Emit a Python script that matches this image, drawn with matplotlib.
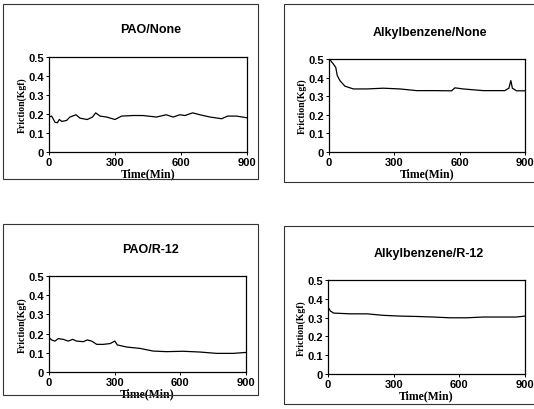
import matplotlib.pyplot as plt
from matplotlib.patches import Rectangle

# Friction traces (time in min, friction in Kgf)
pao_none_t = [0, 12, 27, 38, 47, 58, 80, 95, 123, 141, 174, 198, 212, 232, 262, 300,
              330, 383, 427, 488, 533, 564, 595, 618, 653, 686, 732, 785, 812, 853, 900]
pao_none_f = [0.184, 0.189, 0.157, 0.154, 0.171, 0.161, 0.166, 0.184, 0.196, 0.178, 0.171,
              0.184, 0.206, 0.189, 0.184, 0.171, 0.189, 0.192, 0.192, 0.184, 0.196, 0.184,
              0.196, 0.192, 0.206, 0.196, 0.184, 0.175, 0.189, 0.189, 0.180]

alk_none_t = [0, 5, 20, 31, 38, 50, 73, 112, 173, 249, 326, 402, 479, 563, 578, 616,
              708, 807, 826, 835, 842, 861, 900]
alk_none_f = [0.50, 0.495, 0.473, 0.455, 0.411, 0.384, 0.354, 0.339, 0.339, 0.343, 0.339,
              0.330, 0.330, 0.329, 0.345, 0.339, 0.330, 0.330, 0.343, 0.384, 0.343, 0.329, 0.329]

pao_r12_t = [0, 12, 27, 43, 65, 88, 108, 126, 157, 175, 195, 218, 248, 279, 301, 312,
             355, 415, 476, 537, 613, 689, 766, 842, 900]
pao_r12_f = [0.179, 0.167, 0.161, 0.174, 0.170, 0.161, 0.170, 0.161, 0.158, 0.167, 0.161,
             0.144, 0.144, 0.148, 0.161, 0.141, 0.130, 0.123, 0.109, 0.106, 0.108, 0.104,
             0.097, 0.097, 0.102]

alk_r12_t = [0, 11, 26, 102, 178, 253, 329, 405, 481, 557, 633, 709, 784, 860, 900]
alk_r12_f = [0.356, 0.335, 0.324, 0.320, 0.320, 0.312, 0.308, 0.306, 0.303, 0.299, 0.299,
             0.303, 0.303, 0.303, 0.308]

titles = ['PAO/None', 'Alkylbenzene/None', 'PAO/R-12', 'Alkylbenzene/R-12']
series = [(pao_none_t, pao_none_f), (alk_none_t, alk_none_f),
          (pao_r12_t, pao_r12_f), (alk_r12_t, alk_r12_f)]

W, H = 534, 410
fig = plt.figure(figsize=(W / 100, H / 100), dpi=100)

# pixel boxes: axes (x0, y0, x1, y1), outer frame, title y
axes_px = [(49, 58, 247, 153), (329, 60, 525, 153), (49, 277, 246, 373), (328, 281, 525, 375)]
frame_px = [(3, 5, 258, 180), (284, 5, 545, 183), (3, 225, 258, 396), (284, 227, 545, 405)]
title_y = [30, 33, 250, 254]


def fx(x):
    return x / W


def fy(y):
    return 1 - y / H


for i in range(4):
    fx0, fy0, fx1, fy1 = frame_px[i]
    fig.patches.append(Rectangle((fx(fx0), fy(fy1)), fx(fx1) - fx(fx0), fy(fy0) - fy(fy1),
                                 transform=fig.transFigure, fill=False, lw=0.8,
                                 edgecolor='#333333'))

    x0, y0, x1, y1 = axes_px[i]
    ax = fig.add_axes([fx(x0), fy(y1), fx(x1) - fx(x0), fy(y0) - fy(y1)])
    t, f = series[i]
    ax.plot(t, f, color='black', lw=0.9)
    ax.set_xlim(0, 900)
    ax.set_ylim(0, 0.5)
    ax.set_xticks([0, 300, 600, 900])
    ax.set_yticks([0, 0.1, 0.2, 0.3, 0.4, 0.5])
    ax.set_yticklabels(['0', '0.1', '0.2', '0.3', '0.4', '0.5'])
    ax.tick_params(length=2, width=0.7, pad=1.5, labelsize=8)
    for lab in ax.get_xticklabels() + ax.get_yticklabels():
        lab.set_fontweight('bold')
        lab.set_family('Liberation Sans')
    for s in ax.spines.values():
        s.set_linewidth(0.9)
    ax.set_xlabel('Time(Min)', family='Liberation Serif', fontweight='bold',
                  fontsize=8.5, labelpad=0)
    ax.set_ylabel('Friction(Kgf)', family='Liberation Serif', fontweight='bold',
                  fontsize=7, labelpad=1)
    fig.text((fx(x0) + fx(x1)) / 2 + 0.005, fy(title_y[i]), titles[i],
             ha='center', va='center', family='Liberation Sans',
             fontweight='bold', fontsize=9)

fig.savefig('out.png', dpi=100, facecolor='white')
